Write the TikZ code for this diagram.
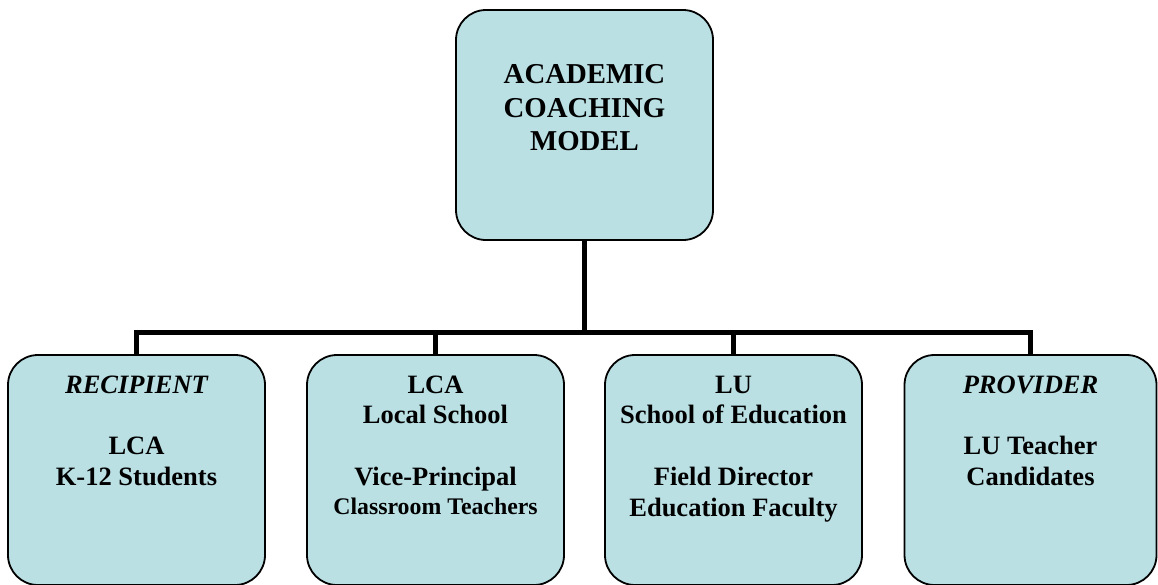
\documentclass[tikz,border=0pt]{standalone}
\usepackage{fontspec}
\setmainfont{Liberation Serif}
\definecolor{boxfill}{RGB}{186,224,228}
\begin{document}
\begin{tikzpicture}[x=1pt,y=-1pt,
  cbox/.style={draw=black, line width=1.8pt, fill=boxfill, rounded corners=30pt, inner sep=0pt, minimum height=230pt},
  bline/.style={anchor=base, font=\fontsize{26.5}{30}\selectfont\bfseries, inner sep=0pt},
  iline/.style={anchor=base, font=\fontsize{26.5}{30}\selectfont\bfseries\itshape, inner sep=0pt},
  sline/.style={anchor=base, font=\fontsize{23.8}{28}\selectfont\bfseries, inner sep=0pt},
  tline/.style={anchor=base, font=\fontsize{28.8}{32}\selectfont\bfseries, inner sep=0pt},
  conn/.style={line width=5pt}]
\useasboundingbox (0,0) rectangle (1158,584);
\begin{scope}
\clip (0,0) rectangle (1158,584);
% boxes
\node[cbox, minimum width=257pt] (top) at (584.5,125) {};
\node[cbox, minimum width=257pt] (b1) at (136.5,470) {};
\node[cbox, minimum width=257pt] (b2) at (435.5,470) {};
\node[cbox, minimum width=257pt] (b3) at (733.5,470) {};
\node[cbox, minimum width=252pt] (b4) at (1030.5,470) {};
\coordinate (j) at (584.5,332);
% connectors
\draw[conn] (top.south) -- (j);
\draw[conn] (b1.north) |- (j) -| (b4.north);
\draw[conn] (b2.north) -- (b2.north |- j);
\draw[conn] (b3.north) -- (b3.north |- j);
% top texts
\node[tline] (t1) at (584.5,83) {ACADEMIC};
\node[tline] (t2) at (584.5,117) {COACHING};
\node[tline] (t3) at (584.5,150) {MODEL};
% box 1
\node[iline] (a1) at (136.5,393) {RECIPIENT};
\node[bline] (a2) at (136.5,454) {LCA};
\node[bline] (a3) at (136.5,485) {K-12 Students};
% box 2
\node[bline] (c1) at (435.5,393) {LCA};
\node[bline] (c2) at (435.5,423) {Local School};
\node[bline] (c3) at (435.5,485) {Vice-Principal};
\node[sline] (c4) at (435.5,514) {Classroom Teachers};
% box 3
\node[bline] (d1) at (733.5,393) {LU};
\node[bline] (d2) at (733.5,423) {School of Education};
\node[bline] (d3) at (733.5,485) {Field Director};
\node[bline] (d4) at (733.5,516) {Education Faculty};
% box 4
\node[iline] (e1) at (1030.5,393) {PROVIDER};
\node[bline] (e2) at (1030.5,454) {LU Teacher};
\node[bline] (e3) at (1030.5,485) {Candidates};
\end{scope}
\end{tikzpicture}
\end{document}
